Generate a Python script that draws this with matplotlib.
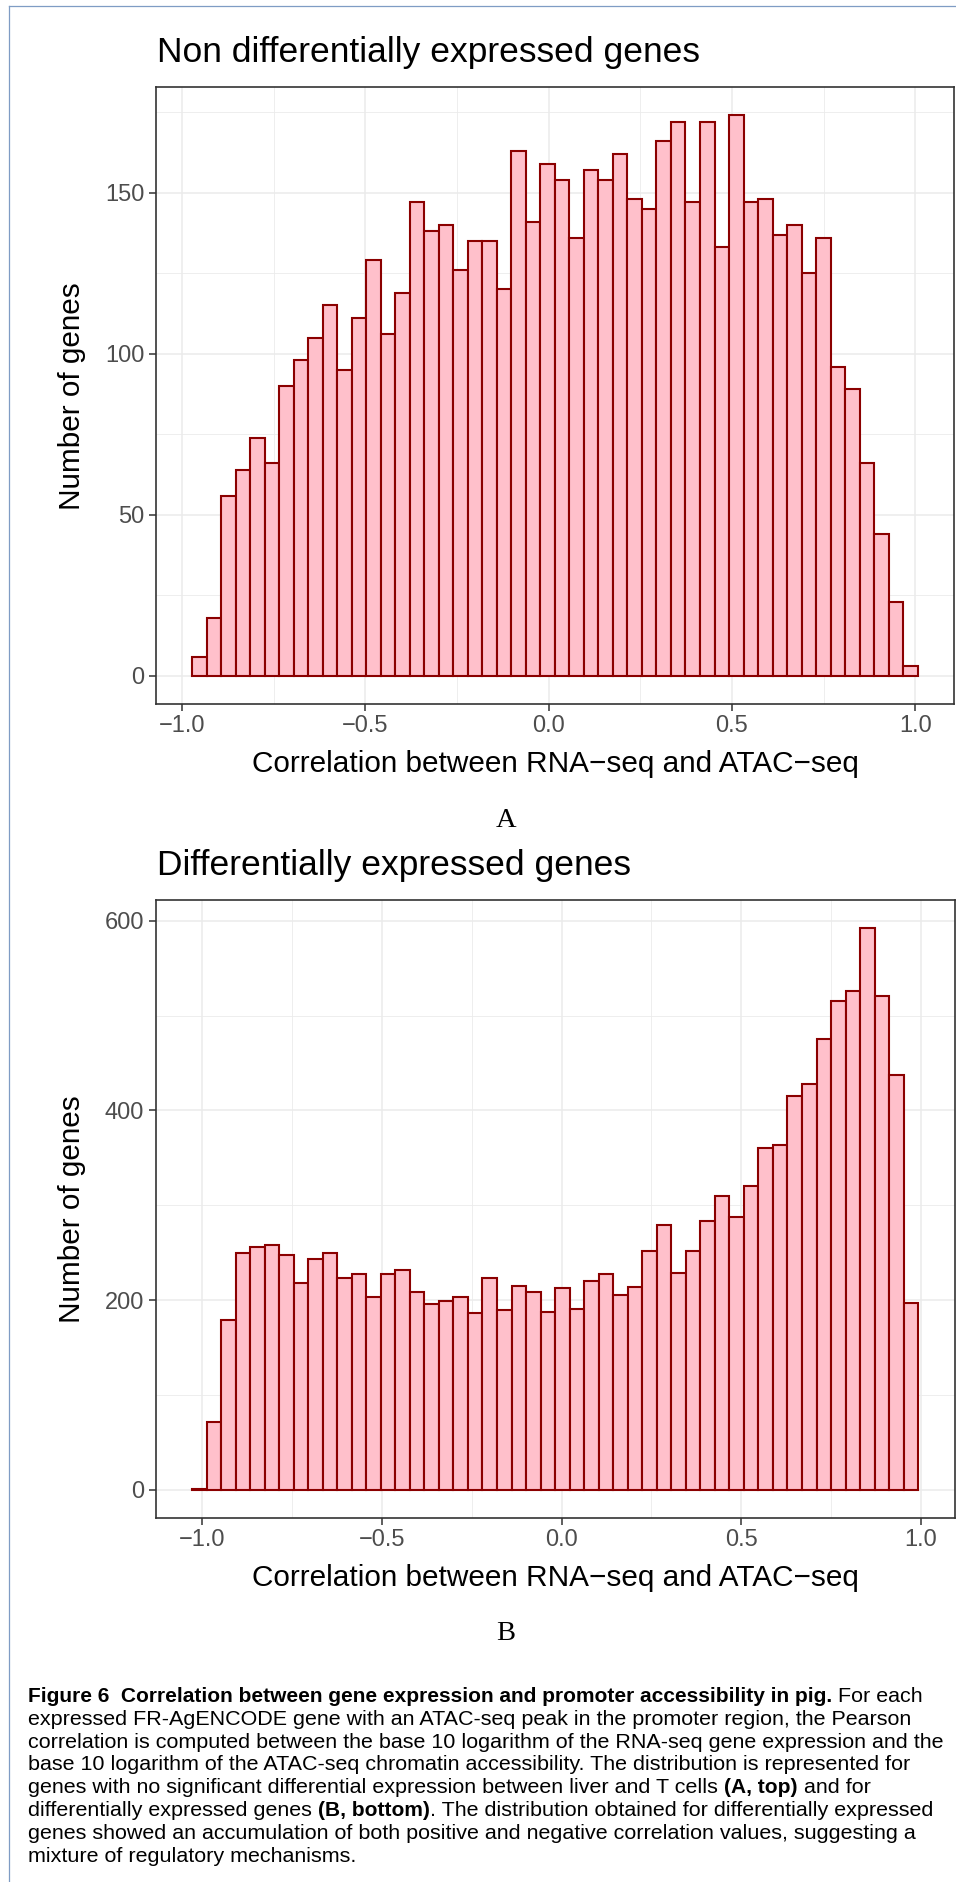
import matplotlib
matplotlib.use("Agg")
import matplotlib.pyplot as plt
from matplotlib.lines import Line2D
import numpy as np

# canvas, in pixels (dpi 100)
W, H = 956, 1882

# ---- data (50 bins each) ----
nde_counts = [6, 18, 56, 64, 74, 66, 90, 98, 105, 115,
              95, 111, 129, 106, 119, 147, 138, 140, 126, 135,
              135, 120, 163, 141, 159, 154, 136, 157, 154, 162,
              148, 145, 166, 172, 147, 172, 133, 174, 147, 148,
              137, 140, 125, 136, 96, 89, 66, 44, 23, 3]
nde_start, nde_binwidth = -0.973, 0.0396

de_counts = [1, 71, 179, 250, 256, 258, 247, 218, 243, 250,
             223, 228, 203, 228, 232, 208, 196, 199, 203, 186,
             223, 190, 215, 209, 187, 213, 191, 220, 228, 205,
             214, 252, 279, 229, 252, 283, 310, 288, 320, 360,
             364, 415, 428, 475, 515, 526, 592, 521, 437, 197]
de_start, de_binwidth = -1.028, 0.0404

x_ticks = [-1.0, -0.5, 0.0, 0.5, 1.0]
x_ticklabels = ["\u22121.0", "\u22120.5", "0.0", "0.5", "1.0"]
nde_yticks = [0, 50, 100, 150]
de_yticks = [0, 200, 400, 600]

titles = ["Non differentially expressed genes", "Differentially expressed genes"]
xlabel = "Correlation between RNA\u2212seq and ATAC\u2212seq"
ylabel = "Number of genes"
letters = ["A", "B"]

caption = [
    [("Figure 6  Correlation between gene expression and promoter accessibility in pig.", True),
     (" For each", False)],
    [("expressed FR-AgENCODE gene with an ATAC-seq peak in the promoter region, the Pearson", False)],
    [("correlation is computed between the base 10 logarithm of the RNA-seq gene expression and the", False)],
    [("base 10 logarithm of the ATAC-seq chromatin accessibility. The distribution is represented for", False)],
    [("genes with no significant differential expression between liver and T cells ", False),
     ("(A, top)", True), (" and for", False)],
    [("differentially expressed genes ", False), ("(B, bottom)", True),
     (". The distribution obtained for differentially expressed", False)],
    [("genes showed an accumulation of both positive and negative correlation values, suggesting a", False)],
    [("mixture of regulatory mechanisms.", False)],
]

SANS = "Liberation Sans"
GRID = "#EBEBEB"
DARK = "#333333"


def fx(px):
    return px / W


def fy(py):
    return 1 - py / H


fig = plt.figure(figsize=(W / 100, H / 100), dpi=100)
fig.patch.set_facecolor("white")

# thin blue page frame (left and top)
fig.add_artist(Line2D([fx(9.3), fx(9.3)], [0, fy(5.7)], color="#7f9cc4", lw=0.9))
fig.add_artist(Line2D([fx(9.3), 1], [fy(5.7), fy(5.7)], color="#7f9cc4", lw=0.9))


def draw_hist(box, counts, start, width, yticks, yminor):
    left, top, right, bottom = box
    ax = fig.add_axes([fx(left), fy(bottom), fx(right) - fx(left), fy(top) - fy(bottom)])
    n = len(counts)
    edges = start + width * np.arange(n)
    ax.bar(edges, counts, width=width, align="edge", color="pink",
           edgecolor="darkred", linewidth=1.5, zorder=3)
    lo, hi = start, start + width * n
    pad = 0.05 * (hi - lo)
    ax.set_xlim(lo - pad, hi + pad)
    top_c = max(counts)
    ax.set_ylim(-0.05 * top_c, 1.05 * top_c)

    ax.set_xticks(x_ticks)
    ax.set_xticklabels(x_ticklabels)
    ax.set_xticks([-0.75, -0.25, 0.25, 0.75], minor=True)
    ax.set_yticks(yticks)
    ax.set_yticklabels([str(v) for v in yticks])
    ax.set_yticks(yminor, minor=True)

    ax.grid(which="major", color=GRID, lw=1.1, zorder=0)
    ax.grid(which="minor", color=GRID, lw=0.6, zorder=0)
    ax.set_axisbelow(True)
    for s in ax.spines.values():
        s.set_color(DARK)
        s.set_linewidth(1.2)
    ax.tick_params(which="major", length=5, width=1.1, color=DARK,
                   labelcolor="#4D4D4D", labelsize=17, pad=3.2)
    ax.tick_params(which="minor", length=0)
    for lab in ax.get_xticklabels() + ax.get_yticklabels():
        lab.set_family(SANS)
    return ax


draw_hist((155.7, 87.3, 954.0, 704.0), nde_counts, nde_start, nde_binwidth,
          nde_yticks, [25, 75, 125, 175])
draw_hist((155.7, 900.4, 954.5, 1517.7), de_counts, de_start, de_binwidth,
          de_yticks, [100, 300, 500])

# panel texts
for title_y, xl_y, mid_y, let_y, title, let in [
        (61.7, 771.7, 395.7, 827.0, titles[0], letters[0]),
        (875.0, 1585.7, 1209.0, 1640.0, titles[1], letters[1])]:
    fig.text(fx(156.7), fy(title_y), title, family=SANS, fontsize=25.5,
             ha="left", va="baseline", color="black")
    fig.text(fx(555), fy(xl_y), xlabel, family=SANS, fontsize=21.4,
             ha="center", va="baseline", color="black")
    fig.text(fx(80), fy(mid_y), ylabel, family=SANS, fontsize=21.4,
             ha="center", va="baseline", rotation=90, rotation_mode="anchor",
             color="black")
    fig.text(fx(506), fy(let_y), let, family="Liberation Serif", fontsize=20.5,
             ha="center", va="baseline", color="black")

# caption with mixed bold / regular runs
renderer = fig.canvas.get_renderer()
cap_size = {True: 15.0, False: 15.45}


def text_width(s, bold):
    t = fig.text(0, 0, s, family=SANS, fontsize=cap_size[bold],
                 weight="bold" if bold else "normal")
    w = t.get_window_extent(renderer).width
    t.remove()
    return w


space_w = {b: text_width("x x", b) - text_width("xx", b) for b in (True, False)}

base_y = 1702.0
line_gap = 22.8
for i, runs in enumerate(caption):
    x = 28.3
    y = base_y + i * line_gap
    for s, bold in runs:
        lead = len(s) - len(s.lstrip(" "))
        trail = len(s) - len(s.rstrip(" "))
        x += lead * space_w[bold]
        core = s.strip(" ")
        fig.text(fx(x), fy(y), core, family=SANS, fontsize=cap_size[bold],
                 weight="bold" if bold else "normal", ha="left", va="baseline",
                 color="black")
        x += text_width(core, bold) + trail * space_w[bold]

fig.savefig("out.png", dpi=100, facecolor="white")
